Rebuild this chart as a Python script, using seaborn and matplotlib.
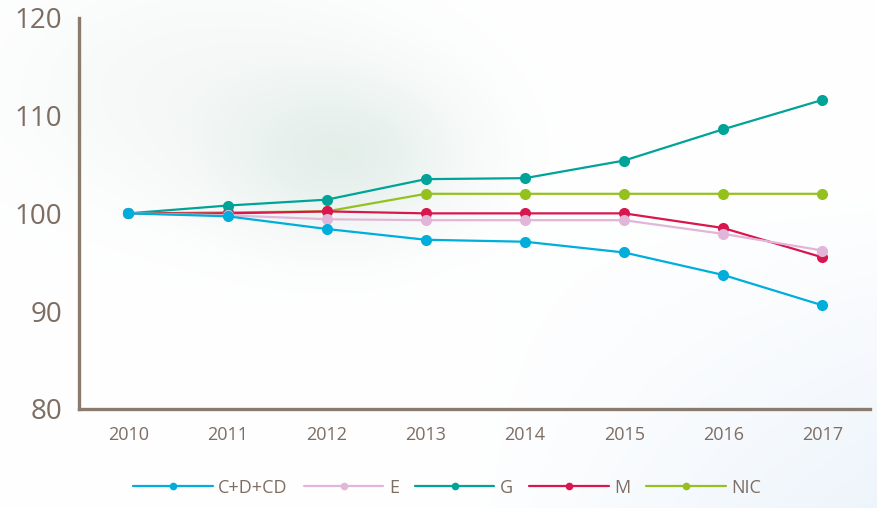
import numpy as np
import pandas as pd
import matplotlib
matplotlib.use("Agg")
import matplotlib.pyplot as plt
import seaborn as sns

# Data
years = [2010, 2011, 2012, 2013, 2014, 2015, 2016, 2017]
cd_vals = [100.0, 99.7, 98.4, 97.3, 97.1, 96.0, 93.7, 90.6]
e_vals = [100.0, 99.8, 99.4, 99.3, 99.3, 99.3, 97.9, 96.2]
g_vals = [100.0, 100.8, 101.4, 103.5, 103.6, 105.4, 108.6, 111.6]
m_vals = [100.0, 100.0, 100.2, 100.0, 100.0, 100.0, 98.5, 95.5]
nic_vals = [100.0, 100.1, 100.2, 102.0, 102.0, 102.0, 102.0, 102.0]

series = ["C+D+CD", "E", "G", "M", "NIC"]
colors = ["#00aedb", "#e2b6d8", "#00a398", "#d8174f", "#95c11f"]
y_ticks = [80, 90, 100, 110, 120]

df = pd.DataFrame({
    "year": years * 5,
    "value": cd_vals + e_vals + g_vals + m_vals + nic_vals,
    "series": sum([[s] * len(years) for s in series], []),
})

sns.set_style("white")
plt.rcParams["font.family"] = ["Open Sans", "DejaVu Sans"]

axis_col = "#8b7b6f"
text_col = "#7d6d62"

fig = plt.figure(figsize=(8.77, 5.08), dpi=100)

# soft background wash
bg = fig.add_axes([0, 0, 1, 1], zorder=-1)
h, w = 508, 877
yy, xx = np.mgrid[0:h, 0:w]
blob = 0.55 * np.exp(-(((xx - 340) / 120.0) ** 2 + ((yy - 155) / 80.0) ** 2))
haze = 0.35 * np.exp(-(((xx - 200) / 200.0) ** 2 + ((yy - 90) / 120.0) ** 2))
blue = 0.7 * np.clip((xx - 450) / 430.0, 0, 1) * np.clip((yy - 180) / 330.0, 0, 1)
img = np.ones((h, w, 3))
green_tint = np.array([0.82, 0.89, 0.86])
gray_tint = np.array([0.90, 0.93, 0.92])
blue_tint = np.array([0.90, 0.94, 0.98])
for c in range(3):
    img[..., c] = img[..., c] * (1 - haze) + gray_tint[c] * haze
    img[..., c] = img[..., c] * (1 - blob) + green_tint[c] * blob
    img[..., c] = img[..., c] * (1 - blue) + blue_tint[c] * blue
bg.imshow(img, aspect="auto")
bg.axis("off")

ax = fig.add_axes([0.090, 0.195, 0.902, 0.77])
ax.patch.set_alpha(0)

# draw in reverse so C+D+CD sits on top
sns.lineplot(data=df, x="year", y="value", hue="series",
             hue_order=series[::-1], palette=colors[::-1], marker="o",
             markersize=8, markeredgewidth=0, linewidth=1.6, ax=ax,
             legend=False)

ax.set_xlim(2009.5, 2017.48)
ax.set_ylim(80, 120)
ax.set_xticks(years)
ax.set_yticks(y_ticks)
ax.set_xlabel("")
ax.set_ylabel("")

for side in ["top", "right"]:
    ax.spines[side].set_visible(False)
for side in ["left", "bottom"]:
    ax.spines[side].set_color(axis_col)
    ax.spines[side].set_linewidth(2.4)

ax.tick_params(axis="y", length=0, pad=12, labelsize=20, labelcolor=text_col)
ax.tick_params(axis="x", length=0, pad=12, labelsize=13, labelcolor=text_col)

# legend
handles = [plt.Line2D([], [], color=c, marker="o", markersize=5.5,
                      markeredgewidth=0, linewidth=1.6) for c in colors]
leg = fig.legend(handles, series, loc="center", bbox_to_anchor=(0.51, 0.04),
                 ncol=5, frameon=False, fontsize=13, handlelength=4.4,
                 handletextpad=0.3, columnspacing=0.9)
for t in leg.get_texts():
    t.set_color(text_col)

fig.savefig("out.png", dpi=100)
